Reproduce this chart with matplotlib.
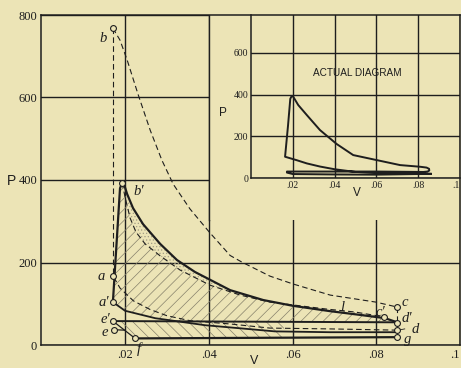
import numpy as np
import matplotlib
matplotlib.use('Agg')
import matplotlib.pyplot as plt
from matplotlib.patches import Rectangle

plt.rcParams['hatch.linewidth'] = 0.5

BG = '#ECE4B6'
INK = '#1e1e1e'
HATCH = '#86816b'

# ---------------- main chart data (V, P) ----------------
main_xticks = [0.02, 0.04, 0.06, 0.08, 0.1]
main_xlabels = ['.02', '.04', '.06', '.08', '.1']
main_yticks = [0, 200, 400, 600, 800]
main_ylabels = ['0', '200', '400', '600', '800']

# theoretical cycle (dashed)
ab_v = [0.0171, 0.0171]
ab_p = [768, 168]
bc_v = [0.0171, 0.0188, 0.0205, 0.0231, 0.0260, 0.0288, 0.0315, 0.0355, 0.0401,
        0.0451, 0.0479, 0.0546, 0.0601, 0.0690, 0.0799, 0.0850]
bc_p = [768, 739, 691, 608, 521, 448, 390, 330, 274, 217, 201, 167, 148, 121, 104, 92]
cd_v = [0.0850, 0.0850]
cd_p = [92, 36]
da_v = [0.0850, 0.0690, 0.0546, 0.0451, 0.0355, 0.0300, 0.0260, 0.0220, 0.0188, 0.0171]
da_p = [36, 39, 41, 51, 59, 71, 86, 107, 138, 168]

# adiabatic from b' (dashed, "l")
l_v = [0.0193, 0.0200, 0.0212, 0.0226, 0.0248, 0.0284, 0.0331, 0.0403, 0.0475,
       0.0546, 0.0618, 0.0682, 0.0749, 0.0819]
l_p = [393, 359, 308, 274, 245, 216, 182, 145, 121, 104, 95, 87, 80, 68]

# actual: a' -> b' -> expansion -> d'
act_v = [0.0171, 0.0188, 0.0193, 0.0199, 0.0205, 0.0219, 0.0243, 0.0284, 0.0324,
         0.0367, 0.0451, 0.0530, 0.0601, 0.0690, 0.0761, 0.0821, 0.0850]
act_p = [104, 380, 393, 385, 366, 332, 293, 245, 206, 177, 133, 109, 95, 82, 73, 65, 55]

# actual compression ending at a'
comp_v = [0.0850, 0.0690, 0.0558, 0.0391, 0.0272, 0.0200, 0.0171]
comp_p = [31, 31, 33, 48, 65, 83, 104]

# e' - d' line, e' - f, e stub, f - g line
ep_v = [0.0171, 0.0850]
ep_p = [58, 55]
ef_v = [0.0171, 0.0224]
ef_p = [58, 16]
es_v = [0.0174, 0.0199]
es_p = [37, 36]
fg_v = [0.0224, 0.0850]
fg_p = [16, 19]

# marked points
pt_names = ['b', "b\u2032", 'a', "a\u2032", "e\u2032", 'e', 'f', 'c', "c\u2032", "d\u2032", 'd', 'g']
pt_v = [0.0171, 0.0192, 0.0171, 0.0171, 0.0171, 0.0174, 0.0224, 0.0850, 0.0819, 0.0850, 0.0850, 0.0850]
pt_p = [768, 392, 168, 104, 58, 37, 16, 92, 68, 54, 36, 19]

# ---------------- inset "actual diagram" ----------------
ins_xticks = [0.02, 0.04, 0.06, 0.08, 0.1]
ins_xlabels = ['.02', '.04', '.06', '.08', '.1']
ins_yticks = [0, 200, 400, 600]
ins_ylabels = ['0', '200', '400', '600']
ins_v = [0.0860, 0.0700, 0.0600, 0.0500, 0.0400, 0.0330, 0.0267, 0.0220, 0.0163,
         0.0177, 0.0188, 0.0195, 0.0202, 0.0226, 0.0267, 0.0330, 0.0410, 0.0489,
         0.0601, 0.0713, 0.0809, 0.0840, 0.0852, 0.0853, 0.0845, 0.0825, 0.0600,
         0.0400, 0.0250, 0.0172, 0.0172, 0.0200, 0.0400, 0.0600, 0.0860]
ins_p = [20, 22, 25, 29, 42, 55, 70, 85, 102,
         250, 380, 394, 390, 350, 302, 230, 163, 110,
         86, 62, 54, 50, 44, 36, 31, 29, 31,
         31, 31, 31, 26, 19, 17, 16, 20]

# ---------------- figure ----------------
W, H = 461, 368
fig = plt.figure(figsize=(W / 100, H / 100), dpi=100)
fig.patch.set_facecolor(BG)


def fx(px):
    return px / W


def fy(py):
    return 1 - py / H


serif = ['Liberation Serif', 'DejaVu Serif']
sans = ['Liberation Sans', 'DejaVu Sans']

ax = fig.add_axes([fx(41.3), fy(345), (460 - 41.3) / W, (345 - 15) / H])
ax.set_facecolor(BG)
ax.set_xlim(0, 0.1)
ax.set_ylim(0, 800)
ax.set_xticks(main_xticks)
ax.set_xticklabels(main_xlabels)
ax.set_yticks(main_yticks)
ax.set_yticklabels(main_ylabels)
ax.tick_params(length=0, pad=3, labelsize=9, colors=INK)
for lab in ax.get_xticklabels() + ax.get_yticklabels():
    lab.set_family(serif)
ax.get_xticklabels()[-1].set_horizontalalignment('right')
ax.grid(True, color=INK, lw=1.0)
ax.set_axisbelow(True)
for s in ax.spines.values():
    s.set_color(INK)
    s.set_linewidth(1.1)

# blank box for the inset
box_bottom = 303
ax.add_patch(Rectangle((0.04, box_bottom), 0.06, 800 - box_bottom,
                       facecolor=BG, edgecolor='none', zorder=1.2))
ax.plot([0.04, 0.04], [box_bottom, 800], color=INK, lw=1.0, zorder=1.3)

# hatched regions
xs = np.linspace(act_v[0], l_v[-1], 500)
up_v = act_v[:3] + l_v[1:]
up_p = act_p[:3] + l_p[1:]
upper = np.interp(xs, up_v, up_p)
lower = np.maximum(np.interp(xs, comp_v[::-1], comp_p[::-1]), np.interp(xs, ep_v, ep_p))
ax.fill_between(xs, lower, upper, where=upper > lower, hatch='///',
                facecolor='none', edgecolor=HATCH, lw=0, zorder=1.5)

xs2 = np.linspace(l_v[0], 0.061, 300)
u2 = np.interp(xs2, act_v, act_p)
l2 = np.interp(xs2, l_v, l_p)
ax.fill_between(xs2, l2, u2, where=u2 > l2, hatch='.....',
                facecolor='none', edgecolor='#a39e86', lw=0, zorder=1.5)

xs3 = np.linspace(ep_v[0], 0.058, 300)
u3 = np.interp(xs3, ep_v, ep_p)
l3 = np.interp(xs3, ef_v + fg_v[1:], ef_p + fg_p[1:])
ax.fill_between(xs3, l3, u3, where=u3 > l3, hatch='\\\\\\',
                facecolor='none', edgecolor=HATCH, lw=0, zorder=1.5)

dash = (0, (5, 3))
for v, p in [(ab_v, ab_p), (bc_v, bc_p), (cd_v, cd_p), (da_v, da_p), (l_v, l_p)]:
    ax.plot(v, p, color=INK, lw=0.8, ls=dash, zorder=3)

ax.plot(act_v, act_p, color=INK, lw=1.6, solid_joinstyle='round', zorder=3)
ax.plot(comp_v, comp_p, color=INK, lw=1.3, zorder=3)
ax.plot(ep_v, ep_p, color=INK, lw=1.4, zorder=3)
ax.plot(ef_v, ef_p, color=INK, lw=0.9, zorder=3)
ax.plot(es_v, es_p, color=INK, lw=0.9, zorder=3)
ax.plot(fg_v, fg_p, color=INK, lw=1.6, zorder=3)

ax.plot(pt_v, pt_p, 'o', ms=4.2, mfc=BG, mec=INK, mew=0.8, zorder=5, clip_on=False)

label_pos = {
    'b': (0.0147, 744), "b\u2032": (0.0233, 371), 'a': (0.0144, 167), "a\u2032": (0.0150, 104),
    "e\u2032": (0.0154, 63), 'e': (0.0152, 31), 'f': (0.0232, -10), 'c': (0.0868, 104),
    "c\u2032": (0.0810, 80), "d\u2032": (0.0874, 64), 'd': (0.0892, 38), 'g': (0.0874, 13),
    'l': (0.0718, 92),
}
for name, (x, y) in label_pos.items():
    ax.text(x, y, name, family=serif, style='italic', fontsize=10.5, color=INK,
            ha='center', va='center', zorder=6)
ax.plot([0.0852, 0.0868], [36, 39], color=INK, lw=0.6, zorder=4)

fig.text(fx(11), fy(181), 'P', family=sans, fontsize=10, color=INK, ha='center', va='center')
fig.text(fx(254), fy(361), 'V', family=sans, fontsize=9, color=INK, ha='center', va='center')

# ---------------- inset axes ----------------
ax2 = fig.add_axes([fx(251), fy(178), (460 - 251) / W, (178 - 15) / H])
ax2.set_facecolor('none')
ax2.set_xlim(0, 0.1)
ax2.set_ylim(0, 782)
ax2.set_xticks(ins_xticks)
ax2.set_xticklabels(ins_xlabels)
ax2.set_yticks(ins_yticks)
ax2.set_yticklabels(ins_ylabels)
ax2.tick_params(length=0, pad=2, labelsize=7, colors=INK)
for lab in ax2.get_xticklabels() + ax2.get_yticklabels():
    lab.set_family(serif)
ax2.get_xticklabels()[-1].set_horizontalalignment('right')
ax2.grid(True, color=INK, lw=1.0)
ax2.set_axisbelow(True)
ax2.spines['top'].set_visible(False)
ax2.spines['right'].set_visible(False)
for s in ('left', 'bottom'):
    ax2.spines[s].set_color(INK)
    ax2.spines[s].set_linewidth(1.1)
ax2.plot(ins_v, ins_p, color=INK, lw=1.4, solid_joinstyle='round', zorder=3)

fig.text(fx(223), fy(113), 'P', family=sans, fontsize=8.5, color=INK, ha='center', va='center')
fig.text(fx(357), fy(193), 'V', family=sans, fontsize=8.5, color=INK, ha='center', va='center')
fig.text(fx(357), fy(73), 'ACTUAL DIAGRAM', family=sans, fontsize=7.2, color=INK,
         ha='center', va='center')

fig.savefig('out.png', dpi=100, facecolor=BG)
